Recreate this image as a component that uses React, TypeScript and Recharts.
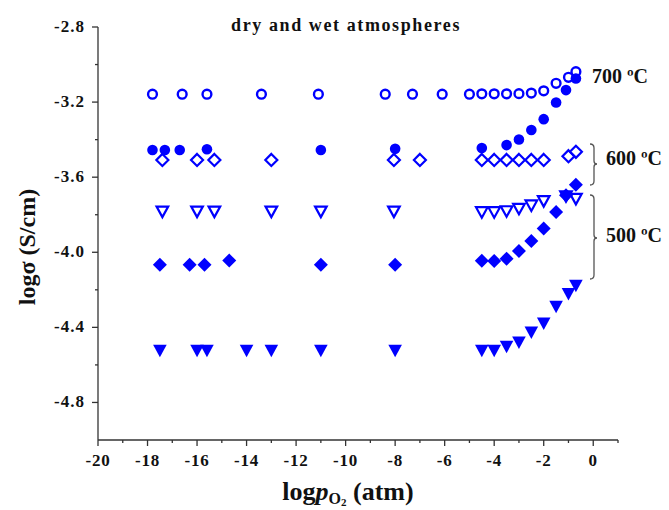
import React from 'react';
import { ScatterChart, Scatter, XAxis, YAxis } from 'recharts';

const BLUE = '#0000ff';
const AXIS = '#333333';
const FONT = "'Liberation Serif', 'Times New Roman', serif";

// 700 °C, open circles
const openCircleX = [-17.8, -16.6, -15.6, -13.4, -11.1, -8.4, -7.3, -6.1, -5.0, -4.5, -4.0, -3.5, -3.0, -2.5, -2.0, -1.5, -1.0, -0.7];
const openCircleY = [-3.158, -3.158, -3.158, -3.158, -3.158, -3.158, -3.158, -3.158, -3.158, -3.156, -3.156, -3.156, -3.155, -3.152, -3.14, -3.1, -3.068, -3.038];

// filled circles
const fillCircleX = [-17.8, -17.3, -16.7, -15.6, -11.0, -8.0, -4.5, -3.5, -3.0, -2.5, -2.0, -1.5, -1.1, -0.7];
const fillCircleY = [-3.455, -3.455, -3.455, -3.451, -3.455, -3.449, -3.445, -3.429, -3.399, -3.349, -3.291, -3.202, -3.136, -3.074];

// 600 °C, open diamonds
const openDiamondX = [-17.4, -16.0, -15.3, -13.0, -8.05, -7.0, -4.5, -4.0, -3.5, -3.0, -2.5, -2.0, -1.0, -0.7];
const openDiamondY = [-3.508, -3.508, -3.508, -3.508, -3.508, -3.508, -3.508, -3.508, -3.508, -3.508, -3.508, -3.508, -3.488, -3.465];

// 500 °C, open down triangles
const openTriX = [-17.4, -16.0, -15.3, -13.0, -11.0, -8.05, -4.5, -4.0, -3.5, -3.0, -2.5, -2.0, -1.1, -0.7];
const openTriY = [-3.782, -3.782, -3.782, -3.782, -3.782, -3.782, -3.785, -3.785, -3.78, -3.767, -3.749, -3.726, -3.7, -3.714];

// filled diamonds
const fillDiamondX = [-17.5, -16.3, -15.7, -14.7, -11.0, -8.0, -4.5, -4.0, -3.5, -3.0, -2.5, -2.0, -1.5, -1.1, -0.7];
const fillDiamondY = [-4.066, -4.066, -4.066, -4.044, -4.066, -4.066, -4.045, -4.046, -4.034, -3.993, -3.94, -3.874, -3.785, -3.696, -3.64];

// filled down triangles
const fillTriX = [-17.5, -16.0, -15.6, -14.0, -13.0, -11.0, -8.0, -4.5, -4.0, -3.5, -3.0, -2.5, -2.0, -1.5, -1.0, -0.7];
const fillTriY = [-4.523, -4.523, -4.523, -4.523, -4.523, -4.523, -4.523, -4.523, -4.523, -4.501, -4.478, -4.425, -4.377, -4.288, -4.22, -4.176];

const xMajor = [-20, -18, -16, -14, -12, -10, -8, -6, -4, -2, 0];
const xMinor = [-19, -17, -15, -13, -11, -9, -7, -5, -3, -1, 1];
const yMajor = [-4.8, -4.4, -4.0, -3.6, -3.2, -2.8];
const yMinor = [-4.6, -4.2, -3.8, -3.4, -3.0];

const pts = (xs: number[], ys: number[]) => xs.map((x, i) => ({ x, y: ys[i] }));

const OpenCircle = (p: any) => (
  <circle cx={p.cx} cy={p.cy} r={4.4} fill="none" stroke={BLUE} strokeWidth={2.4} />
);
const FillCircle = (p: any) => <circle cx={p.cx} cy={p.cy} r={5.3} fill={BLUE} />;
const diamond = (cx: number, cy: number, s: number) =>
  `M${cx},${cy - s} L${cx + s},${cy} L${cx},${cy + s} L${cx - s},${cy} Z`;
const OpenDiamond = (p: any) => (
  <path d={diamond(p.cx, p.cy, 6)} fill="none" stroke={BLUE} strokeWidth={2.2} />
);
const FillDiamond = (p: any) => <path d={diamond(p.cx, p.cy, 7)} fill={BLUE} />;
const downTri = (cx: number, cy: number, w: number, h: number) =>
  `M${cx - w},${cy - h * 0.45} L${cx + w},${cy - h * 0.45} L${cx},${cy + h * 0.55} Z`;
const OpenTri = (p: any) => (
  <path d={downTri(p.cx, p.cy, 5.8, 10.5)} fill="none" stroke={BLUE} strokeWidth={2.2} />
);
const FillTri = (p: any) => <path d={downTri(p.cx, p.cy, 6.8, 12.5)} fill={BLUE} />;

const XTick = ({ x, y, payload }: any) => {
  const major = xMajor.includes(payload.value);
  return (
    <g>
      <line x1={x} y1={y} x2={x} y2={y + (major ? 6 : 3)} stroke={AXIS} strokeWidth={1.3} />
      {major && (
        <text x={x} y={y + 26} textAnchor="middle" fontFamily={FONT} fontWeight="bold" fontSize={17} letterSpacing={0.8} fill="#111">
          {payload.value}
        </text>
      )}
    </g>
  );
};

const YTick = ({ x, y, payload }: any) => {
  const major = yMajor.includes(payload.value);
  return (
    <g>
      <line x1={x} y1={y} x2={x - (major ? 6 : 3)} y2={y} stroke={AXIS} strokeWidth={1.3} />
      {major && (
        <text x={x - 13} y={y + 5} textAnchor="end" fontFamily={FONT} fontWeight="bold" fontSize={17} letterSpacing={1} fill="#111">
          {payload.value.toFixed(1)}
        </text>
      )}
    </g>
  );
};

const Brace = ({ top, bottom, mid }: { top: number; bottom: number; mid: number }) => (
  <path
    d={`M590,${top} Q594,${top} 594,${top + 4} L594,${mid - 3} Q594,${mid} 597,${mid} Q594,${mid} 594,${mid + 3} L594,${bottom - 4} Q594,${bottom} 590,${bottom}`}
    fill="none"
    stroke="#555"
    strokeWidth={1.3}
  />
);

export default function App() {
  return (
    <div style={{ position: 'absolute', left: 0, top: 0, width: 669, height: 510, background: '#fff' }}>
      <ScatterChart width={669} height={510} margin={{ top: 27, right: 51, left: 0, bottom: 0 }}>
        <XAxis
          type="number"
          dataKey="x"
          domain={[-20, 1]}
          ticks={[...xMajor, ...xMinor].sort((a, b) => a - b)}
          interval={0}
          height={70}
          tickSize={0}
          tickMargin={0}
          tickLine={false}
          tick={<XTick />}
          axisLine={{ stroke: AXIS, strokeWidth: 1.3 }}
          allowDataOverflow
        />
        <YAxis
          type="number"
          dataKey="y"
          domain={[-5, -2.8]}
          ticks={[...yMajor, ...yMinor].sort((a, b) => a - b)}
          interval={0}
          width={98}
          tickSize={0}
          tickMargin={0}
          tickLine={false}
          tick={<YTick />}
          axisLine={{ stroke: AXIS, strokeWidth: 1.3 }}
          allowDataOverflow
        />
        <Scatter data={pts(fillTriX, fillTriY)} shape={<FillTri />} isAnimationActive={false} />
        <Scatter data={pts(fillDiamondX, fillDiamondY)} shape={<FillDiamond />} isAnimationActive={false} />
        <Scatter data={pts(openTriX, openTriY)} shape={<OpenTri />} isAnimationActive={false} />
        <Scatter data={pts(openDiamondX, openDiamondY)} shape={<OpenDiamond />} isAnimationActive={false} />
        <Scatter data={pts(fillCircleX, fillCircleY)} shape={<FillCircle />} isAnimationActive={false} />
        <Scatter data={pts(openCircleX, openCircleY)} shape={<OpenCircle />} isAnimationActive={false} />
      </ScatterChart>
      <svg width={669} height={510} style={{ position: 'absolute', left: 0, top: 0, pointerEvents: 'none' }}>
        <text x={346} y={31} textAnchor="middle" fontFamily={FONT} fontWeight="bold" fontSize={18} letterSpacing={1.6} fill="#111">
          dry and wet atmospheres
        </text>
        <text
          transform="translate(35,247) rotate(-90)"
          textAnchor="middle"
          fontFamily={FONT}
          fontWeight="bold"
          fontSize={24}
          fill="#111"
        >
          logσ (S/cm)
        </text>
        <text x={348} y={500} textAnchor="middle" fontFamily={FONT} fontWeight="bold" fontSize={26} fill="#111">
          log<tspan fontStyle="italic">p</tspan>
          <tspan fontSize={16} dy={4}>O</tspan>
          <tspan fontSize={11} dy={2}>2</tspan>
          <tspan dy={-6}> (atm)</tspan>
        </text>
        <text x={592} y={83} fontFamily={FONT} fontWeight="bold" fontSize={20} fill="#111">700 ºC</text>
        <Brace top={144} bottom={185} mid={164} />
        <text x={606} y={165} fontFamily={FONT} fontWeight="bold" fontSize={20} fill="#111">600 ºC</text>
        <Brace top={195} bottom={279} mid={238} />
        <text x={606} y={242} fontFamily={FONT} fontWeight="bold" fontSize={20} fill="#111">500 ºC</text>
      </svg>
    </div>
  );
}
